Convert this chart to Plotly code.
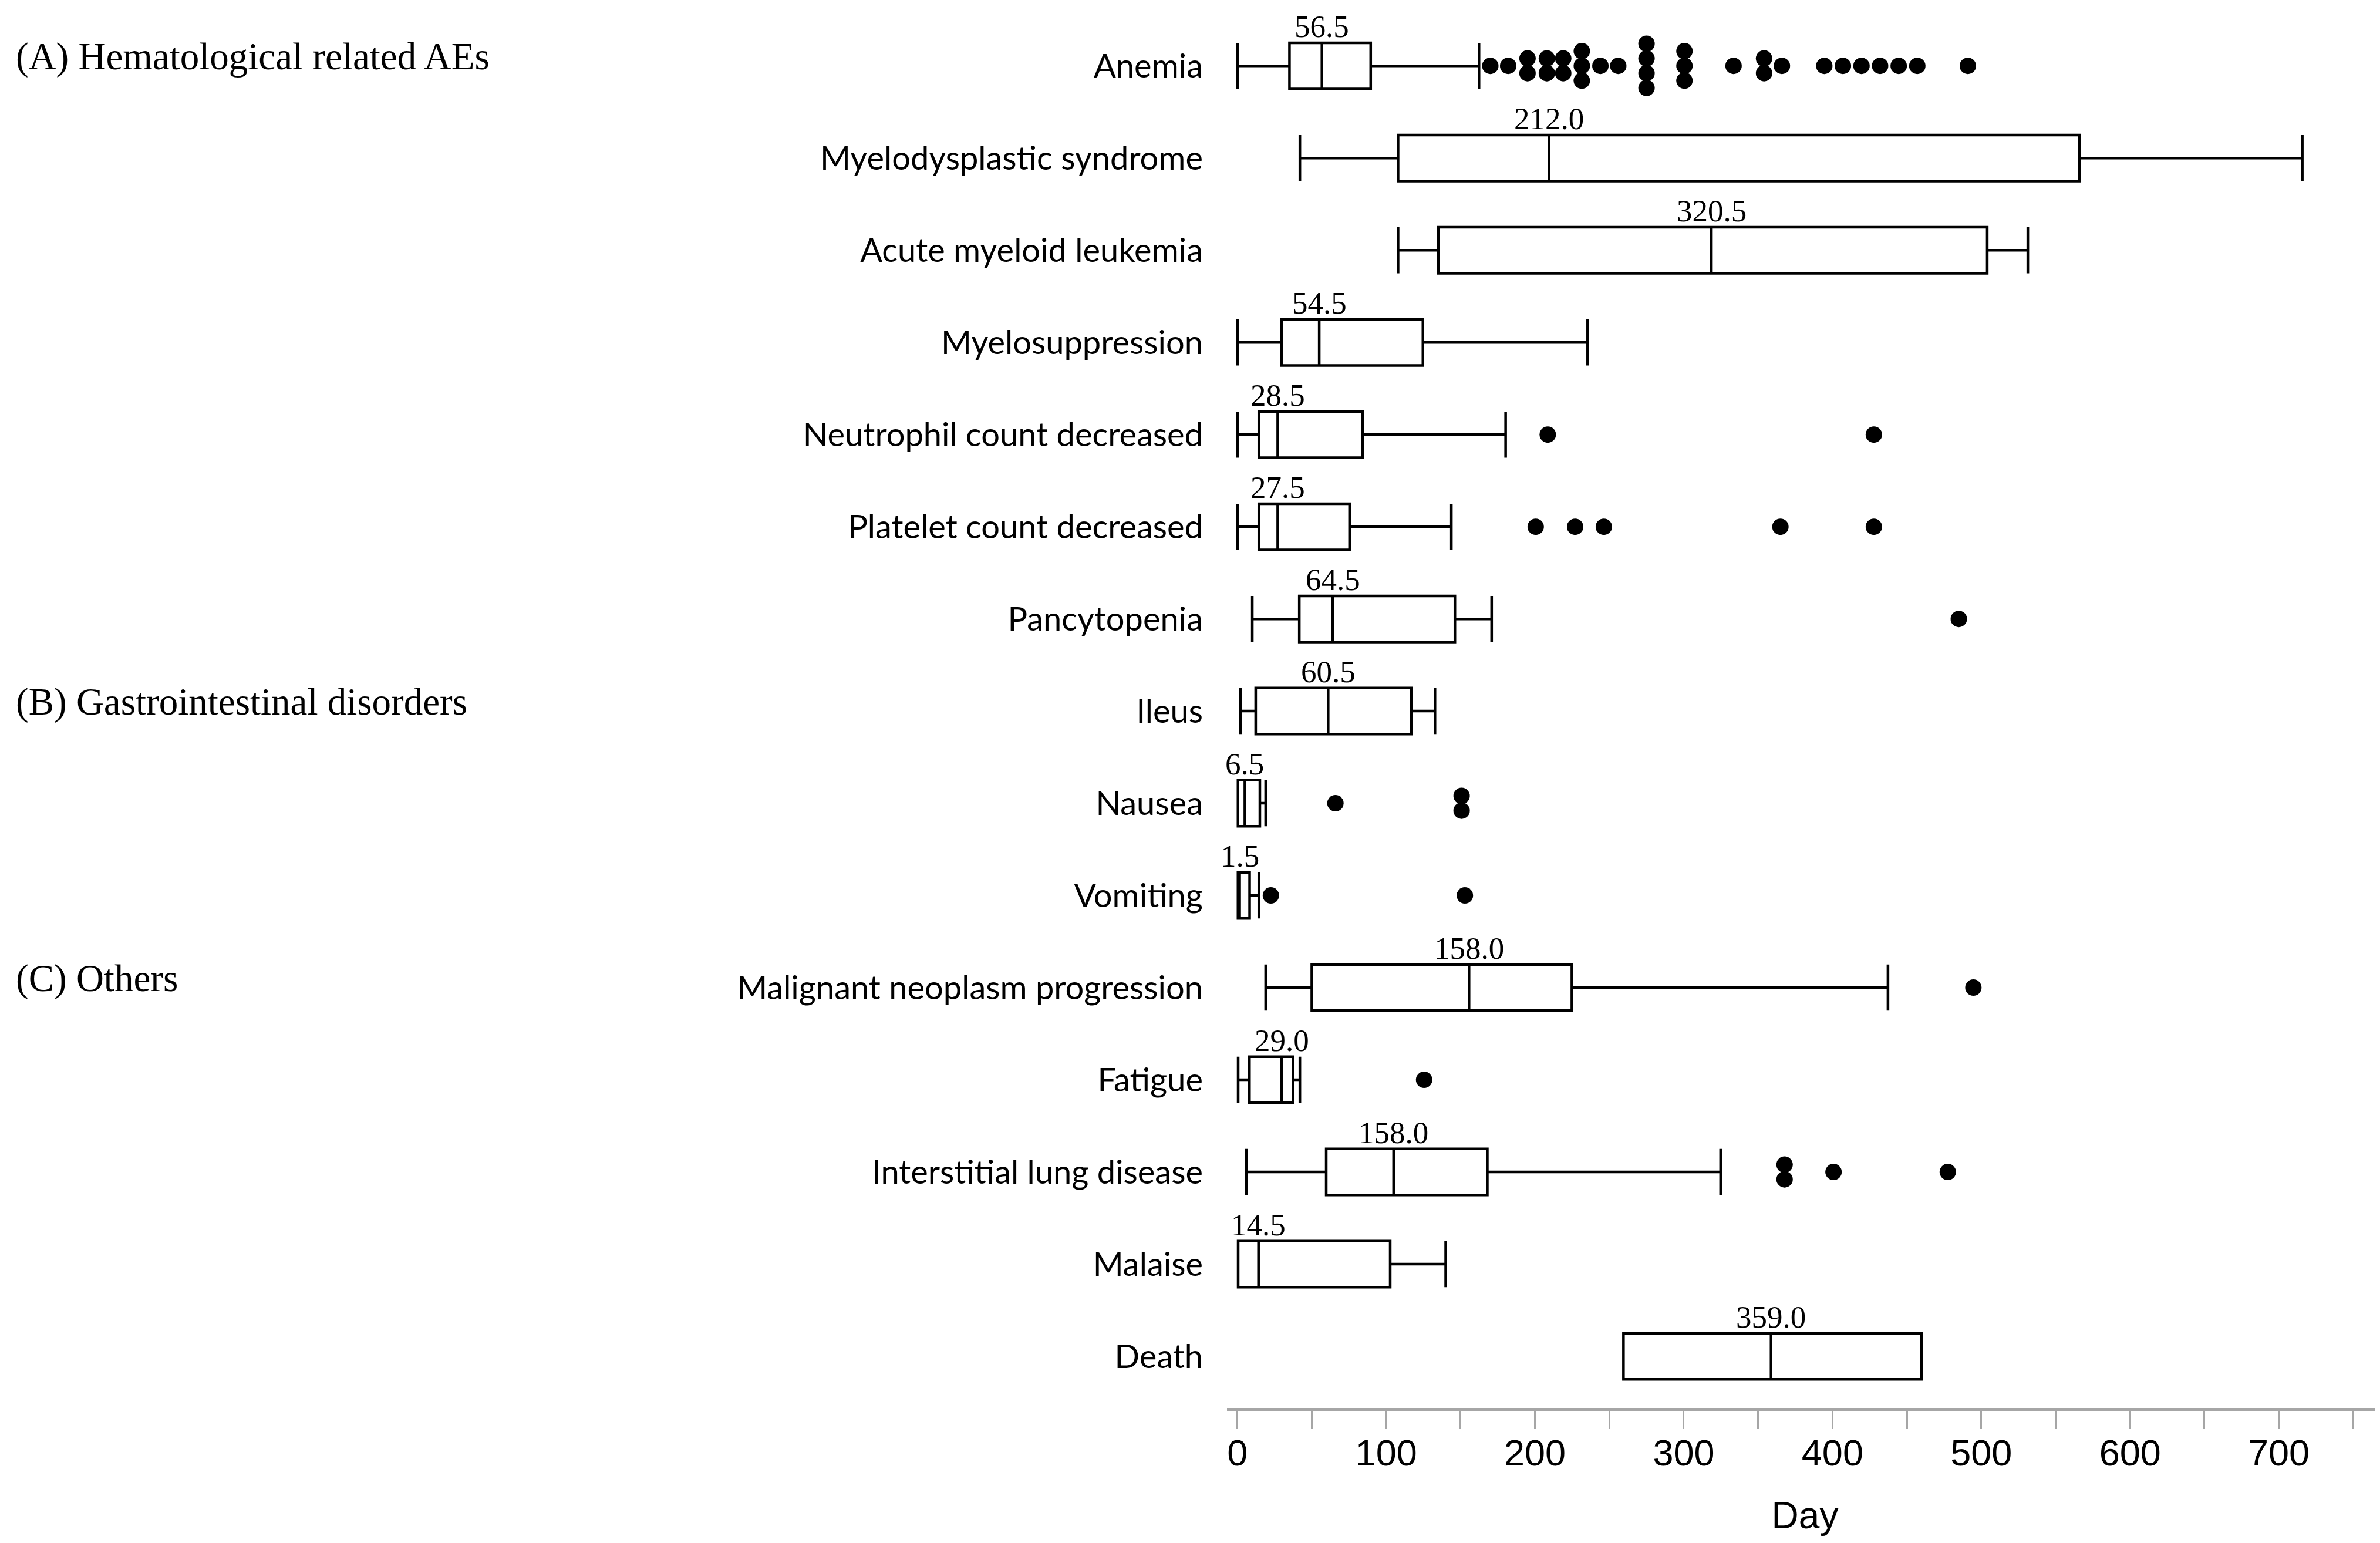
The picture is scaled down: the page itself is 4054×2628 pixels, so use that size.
import plotly.graph_objects as go
from collections import Counter

categories = [
    "Anemia", "Myelodysplastic syndrome", "Acute myeloid leukemia", "Myelosuppression",
    "Neutrophil count decreased", "Platelet count decreased", "Pancytopenia",
    "Ileus", "Nausea", "Vomiting",
    "Malignant neoplasm progression", "Fatigue", "Interstitial lung disease", "Malaise", "Death",
]
lower_whisker = [0, 42, 108, 0, 0, 0, 10, 2, 0.4, 0.4, 19, 0.5, 6, 0.5, 259.5]
q1_values     = [35, 108, 135, 29.6, 14.4, 14.4, 41.6, 12.3, 0.4, 0.4, 50, 8.1, 59.7, 0.5, 259.5]
median_values = [56.8, 209.5, 318.6, 55, 27.1, 27.1, 64.1, 61, 5, 1.5, 155.7, 29.8, 105, 14.2, 358.7]
q3_values     = [89.6, 566, 504, 124.7, 84.2, 75.4, 146.2, 117, 15.1, 8.2, 224.8, 37.4, 168, 102.7, 459.9]
upper_whisker = [162.4, 715.8, 531.3, 235.4, 180.3, 143.8, 170.9, 132.8, 19, 14.4, 437.3, 42, 324.8, 140, 459.9]
median_labels = ["56.5", "212.0", "320.5", "54.5", "28.5", "27.5", "64.5", "60.5", "6.5", "1.5",
                 "158.0", "29.0", "158.0", "14.5", "359.0"]
outliers = [
    [170, 182, 195, 195, 208, 208, 219, 219, 231.5, 231.5, 231.5, 244, 256,
     275, 275, 275, 275, 300.5, 300.5, 300.5, 333.5, 354, 354, 366,
     394.5, 407, 419.5, 432, 444.5, 457, 491],
    [], [], [],
    [208.6, 427.8],
    [200.5, 227, 246.3, 365, 427.8],
    [484.9],
    [],
    [65.9, 150.7, 150.7],
    [22.5, 152.9],
    [494.7],
    [125.5],
    [367.8, 367.8, 400.7, 477.5],
    [],
    [],
]
group_labels = ["(A) Hematological related AEs", "(B) Gastrointestinal disorders", "(C) Others"]
group_rows = [0, 7, 10]

positions = [-i for i in range(len(categories))]

fig = go.Figure()
fig.add_trace(go.Box(
    y=positions, q1=q1_values, median=median_values, q3=q3_values,
    lowerfence=lower_whisker, upperfence=upper_whisker,
    orientation="h", width=0.5, whiskerwidth=1,
    fillcolor="white", line=dict(color="black", width=4.5),
    boxpoints=False, hoverinfo="skip", showlegend=False,
))

stack_step = 0.16
ox, oy = [], []
for i, vals in enumerate(outliers):
    counts = Counter(vals)
    for v, n in counts.items():
        for k in range(n):
            ox.append(v)
            oy.append(positions[i] + (k - (n - 1) / 2) * stack_step)
fig.add_trace(go.Scatter(
    x=ox, y=oy, mode="markers",
    marker=dict(color="black", size=28, line=dict(width=0)),
    showlegend=False, hoverinfo="skip",
))

for i, (m, lab) in enumerate(zip(median_values, median_labels)):
    fig.add_annotation(x=m, y=positions[i], text=lab, showarrow=False,
                       yanchor="bottom", yshift=36,
                       font=dict(family="Liberation Serif", size=53, color="black"))

for lab, r in zip(group_labels, group_rows):
    fig.add_annotation(xref="paper", x=-1.049, xanchor="left", y=positions[r] + 0.1,
                       text=lab, showarrow=False, yanchor="middle",
                       font=dict(family="Liberation Serif", size=65, color="black"))

fig.update_layout(
    width=4054, height=2628,
    margin=dict(l=2082, r=3, t=4, b=238),
    plot_bgcolor="white", paper_bgcolor="white",
    xaxis=dict(
        range=[-7, 770], dtick=100, tick0=0, showgrid=False, zeroline=False,
        showline=True, linecolor="#a6a6a6", linewidth=5,
        ticks="outside", ticklen=31, tickwidth=3, tickcolor="#a6a6a6",
        minor=dict(dtick=50, tick0=0, ticks="outside", ticklen=31, tickwidth=3, tickcolor="#a6a6a6"),
        tickfont=dict(family="Liberation Sans", size=63, color="black"),
        ticklabelstandoff=-14,
        title=dict(text="Day", font=dict(family="Liberation Sans", size=64, color="black"), standoff=52),
    ),
    yaxis=dict(
        range=[-14.56, 0.638], tickmode="array", tickvals=positions, ticktext=categories,
        showgrid=False, zeroline=False, showline=False, ticks="", automargin=False,
        ticklabelstandoff=40,
        tickfont=dict(family="Lato", size=56, color="black"),
    ),
)
fig.write_html("out.html")
